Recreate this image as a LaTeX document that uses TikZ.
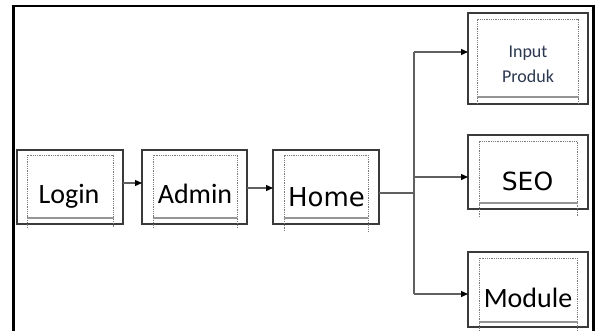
\documentclass[tikz,border=0pt]{standalone}
\usepackage{fontspec}
\setmainfont{Carlito}
\newfontfamily\dejavu{DejaVu Sans}
\usetikzlibrary{arrows.meta}
\definecolor{boxline}{HTML}{3A3A3A}
\definecolor{connline}{HTML}{606060}
\definecolor{dotline}{HTML}{7A7A7A}
\definecolor{navytext}{HTML}{2B3850}
\begin{document}
\begin{tikzpicture}[x=1pt,y=-1pt,
  obox/.style={draw=boxline, line width=1.4pt, inner sep=0pt, outer sep=0pt, fill=white},
  dotside/.style={draw=dotline, line width=0.8pt, dash pattern=on 0.9pt off 0.9pt},
  dotbottom/.style={draw=dotline!80, line width=1.4pt, dash pattern=on 0.4pt off 0.4pt},
  conn/.style={draw=connline, line width=1.3pt, -{Triangle[length=7pt,width=6pt,color=black]}},
  plainline/.style={draw=connline, line width=1.3pt},
  bigtxt/.style={anchor=base, font=\fontsize{28}{30}\selectfont, text=black, inner sep=0pt},
  djtxt/.style={anchor=base, font=\dejavu\fontsize{26}{28}\selectfont, text=black, inner sep=0pt},
  smalltxt/.style={anchor=base, font=\fontsize{18}{20}\selectfont, text=navytext, inner sep=0pt}
]
\useasboundingbox (0,0) rectangle (595,330);
% outer frame
\draw[line width=2.6pt, black] (13.5,334) -- (13.5,6) -- (593.5,6) -- (593.5,334);

% boxes (outer)
\node[obox, minimum width=106pt, minimum height=74pt] (login) at (70,187) {};
\node[obox, minimum width=105pt, minimum height=74pt] (admin) at (194.5,187) {};
\node[obox, minimum width=106pt, minimum height=74pt] (home) at (326,187) {};
\node[obox, minimum width=120pt, minimum height=91pt] (input) at (528,58.5) {};
\node[obox, minimum width=120pt, minimum height=74pt] (seo) at (528,172) {};
\node[obox, minimum width=120pt, minimum height=75pt] (module) at (528,289.5) {};

% inner dotted frames
\draw[dotside] (27,228) -- (27,155) -- (113,155) -- (113,228);
\draw[dotbottom] (27,218) -- (113,218);
\draw[dotside] (153,228) -- (153,155) -- (237,155) -- (237,228);
\draw[dotbottom] (153,218) -- (237,218);
\draw[dotside] (284,231) -- (284,155) -- (368,155) -- (368,231);
\draw[dotbottom] (284,218) -- (368,218);
\draw[dotside] (477,104) -- (477,19) -- (578,19) -- (578,104);
\draw[dotbottom] (477,97) -- (578,97);
\draw[dotside] (479,217) -- (479,141) -- (577,141) -- (577,217);
\draw[dotbottom] (479,203) -- (577,203);
\draw[dotside] (479,331) -- (479,258) -- (577,258) -- (577,331);
\draw[dotbottom] (479,322) -- (577,322);

% texts
\node[bigtxt] (tlogin) at (69,203) {Login};
\node[bigtxt] (tadmin) at (195,203) {Admin};
\node[djtxt] (thome) at (326.5,206) {Home};
\node[anchor=base, font=\dejavu\fontsize{25}{27}\selectfont, text=black, inner sep=0pt] (tseo) at (527.5,190) {SEO};
\node[bigtxt] (tmodule) at (528,307) {Module};
\node[smalltxt] (tinput) at (528,57) {Input};
\node[smalltxt] (tprod) at (528,82) {Produk};

% connectors
\coordinate (a1) at ([yshift=4pt]login.east);
\draw[conn] (a1) -- (a1 -| admin.west);
\coordinate (a2) at ([yshift=-1pt]admin.east);
\draw[conn] (a2) -- (a2 -| home.west);
\coordinate (h1) at ([yshift=-6pt]home.east);
\coordinate (jx) at (414,193);
\draw[plainline] (h1) -- (jx);
\coordinate (pi) at ([yshift=6.5pt]input.west);
\coordinate (si) at ([yshift=-5pt]seo.west);
\coordinate (mi) at ([yshift=-4.5pt]module.west);
\draw[plainline] (jx |- pi) -- (jx |- mi);
\draw[conn] (jx |- pi) -- (pi);
\draw[conn] (jx |- si) -- (si);
\draw[conn] (jx |- mi) -- (mi);
\end{tikzpicture}
\end{document}
